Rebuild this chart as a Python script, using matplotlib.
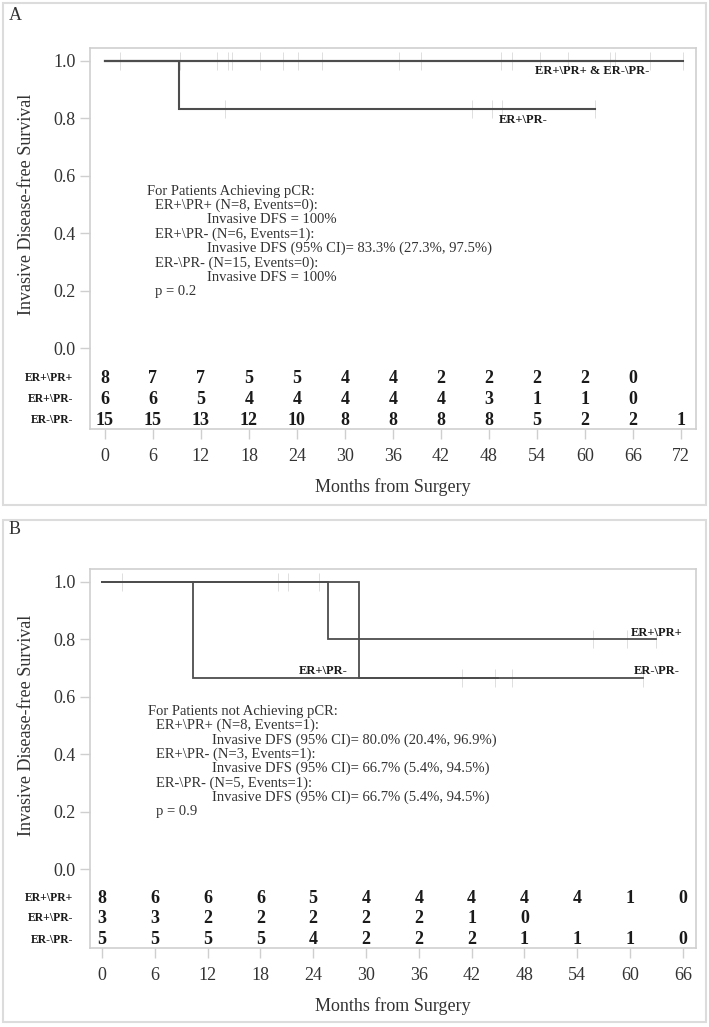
import matplotlib
matplotlib.use("Agg")
import matplotlib.pyplot as plt
from matplotlib.patches import Rectangle

plt.rcParams['font.family'] = ['Liberation Serif', 'DejaVu Serif']

W, H = 709, 1027

# ---- panel A data (pCR) ----
groups = ['ER+\\PR+', 'ER+\\PR-', 'ER-\\PR-']
months_A = [0, 6, 12, 18, 24, 30, 36, 42, 48, 54, 60, 66, 72]
risk_A_pp = [8, 7, 7, 5, 5, 4, 4, 2, 2, 2, 2, 0]
risk_A_pm = [6, 6, 5, 4, 4, 4, 4, 4, 3, 1, 1, 0]
risk_A_nn = [15, 15, 13, 12, 10, 8, 8, 8, 8, 5, 2, 2, 1]

A_pp_t = [0, 63.8]
A_pp_s = [1.0, 1.0]
A_pm_t = [0, 9.25, 61.25]
A_pm_s = [1.0, 0.833, 0.833]
A_nn_t = [0, 72.3]
A_nn_s = [1.0, 1.0]
A_cens_top = [1.9, 9.4, 14, 15.4, 15.9, 19.4, 22.3, 24.1, 27.1, 36.8, 39.5,
              49.5, 50.9, 54.4, 57.9, 63.1, 63.8, 68.1, 72.3]
A_cens_pm = [15, 45.9, 48.4, 49.6, 61.25]

# ---- panel B data (no pCR) ----
months_B = [0, 6, 12, 18, 24, 30, 36, 42, 48, 54, 60, 66]
risk_B_pp = [8, 6, 6, 6, 5, 4, 4, 4, 4, 4, 1, 0]
risk_B_pm = [3, 3, 2, 2, 2, 2, 2, 1, 0]
risk_B_nn = [5, 5, 5, 5, 4, 2, 2, 2, 1, 1, 1, 0]

B_pp_t = [0, 25.7, 63]
B_pp_s = [1.0, 0.8, 0.8]
B_pm_t = [0, 10.4, 45]
B_pm_s = [1.0, 0.667, 0.667]
B_nn_t = [0, 29.2, 61.5]
B_nn_s = [1.0, 0.667, 0.667]
B_cens_top = [2.3, 20, 21.1, 24.7]
B_cens_pp = [55.8, 59.7, 63]
B_cens_low = [40.9, 44.7, 46.6, 61.5]

text_A = ["For Patients Achieving pCR:",
          "ER+\\PR+ (N=8, Events=0):",
          "Invasive DFS = 100%",
          "ER+\\PR- (N=6, Events=1):",
          "Invasive DFS (95% CI)= 83.3% (27.3%, 97.5%)",
          "ER-\\PR- (N=15, Events=0):",
          "Invasive DFS = 100%",
          "p = 0.2"]
text_B = ["For Patients not Achieving pCR:",
          "ER+\\PR+ (N=8, Events=1):",
          "Invasive DFS (95% CI)= 80.0% (20.4%, 96.9%)",
          "ER+\\PR- (N=3, Events=1):",
          "Invasive DFS (95% CI)= 66.7% (5.4%, 94.5%)",
          "ER-\\PR- (N=5, Events=1):",
          "Invasive DFS (95% CI)= 66.7% (5.4%, 94.5%)",
          "p = 0.9"]
indent = [0, 1, 2, 1, 2, 1, 2, 1]

LINE = '#4d4d4d'
FRAME = '#cfcfcf'
TXT = '#333333'

fig = plt.figure(figsize=(W / 100, H / 100), dpi=100)


def fx(x):
    return x / W


def fy(y):
    return 1 - y / H


def panel(top_px, bot_px, xlim, ylo, ticks_x):
    ax = fig.add_axes([fx(90), fy(bot_px), fx(696) - fx(90), fy(top_px) - fy(bot_px)])
    ax.set_xlim(*xlim)
    ax.set_ylim(ylo, 1.045)
    for s in ax.spines.values():
        s.set_color(FRAME)
        s.set_linewidth(1.2)
    ax.set_yticks([0, 0.2, 0.4, 0.6, 0.8, 1.0])
    ax.set_yticklabels(['0.0', '0.2', '0.4', '0.6', '0.8', '1.0'])
    ax.set_xticks(ticks_x)
    ax.tick_params(axis='both', colors=FRAME, labelcolor=TXT, labelsize=13,
                   length=7, width=1.0)
    ax.tick_params(axis='x', pad=7)
    ax.set_xlabel('Months from Surgery', fontsize=13, color=TXT, labelpad=9)
    ax.text(-0.105, (0.5 - ylo) / (1.045 - ylo), 'Invasive Disease-free Survival',
            transform=ax.transAxes, rotation=90, ha='center', va='center',
            fontsize=13, color=TXT)
    return ax


def curve(ax, t, s, lw=1.5):
    ax.step(t, s, where='post', color=LINE, lw=lw, solid_joinstyle='miter')


def censor(ax, t, level):
    # faint censoring ticks
    ax.plot(t, [level] * len(t), ls='none', marker='|', ms=13,
            mew=0.7, color='#dedede', zorder=1)


def risk_table(ax, months, rows, ys):
    for vals, yy in zip(rows, ys):
        for m, v in zip(months, vals):
            ax.text(m, yy, str(v), ha='center', va='center',
                    fontsize=13, fontweight='bold', color='#1a1a1a')


def row_labels(ys_px):
    for g, y in zip(groups, ys_px):
        fig.text(fx(73), fy(y), g, ha='right', va='center', fontsize=8.5,
                 fontweight='bold', color='#1a1a1a')


def notes(lines, x0, y0, deep):
    for i, (ln, ind) in enumerate(zip(lines, indent)):
        x = x0 + [0, 8, deep][ind]
        fig.text(fx(x), fy(y0 + i * 14.4), ln, ha='left', va='center',
                 fontsize=10.5, color=TXT)


# outer boxes
for y0, y1 in [(3, 505), (520, 1022)]:
    fig.patches.append(Rectangle((fx(3), fy(y1)), fx(703), fy(y0) - fy(y1),
                                 transform=fig.transFigure, fill=False,
                                 edgecolor='#dcdcdc', lw=1.5))
fig.text(fx(9), fy(15), 'A', fontsize=13, color=TXT, va='center')
fig.text(fx(9), fy(530), 'B', fontsize=13, color=TXT, va='center')

# ---- panel A ----
axA = panel(48, 429, (-1.875, 73.9), -0.282, months_A)
censor(axA, A_cens_top, 1.0)
censor(axA, A_cens_pm, 0.833)
curve(axA, A_nn_t, A_nn_s)
curve(axA, A_pp_t, A_pp_s)
curve(axA, A_pm_t, A_pm_s)
axA.text(60.9, 0.965, 'ER+\\PR+ & ER-\\PR-', ha='center', va='center',
         fontsize=9, fontweight='bold', color='#1a1a1a')
axA.text(52.25, 0.794, 'ER+\\PR-', ha='center', va='center',
         fontsize=9, fontweight='bold', color='#1a1a1a')
risk_table(axA, months_A, [risk_A_pp, risk_A_pm, risk_A_nn],
           [-0.1045, -0.178, -0.251])
row_labels([378, 399, 420])
notes(text_A, 147, 191, 60)

# ---- panel B ----
axB = panel(569, 948, (-1.36, 67.5), -0.275, months_B)
censor(axB, B_cens_top, 1.0)
censor(axB, B_cens_pp, 0.8)
censor(axB, B_cens_low, 0.667)
curve(axB, B_pp_t, B_pp_s, lw=1.3)
curve(axB, B_pm_t, B_pm_s, lw=1.3)
curve(axB, B_nn_t, B_nn_s, lw=1.3)
axB.text(63, 0.822, 'ER+\\PR+', ha='center', va='center',
         fontsize=9, fontweight='bold', color='#1a1a1a')
axB.text(63, 0.69, 'ER-\\PR-', ha='center', va='center',
         fontsize=9, fontweight='bold', color='#1a1a1a')
axB.text(25.1, 0.69, 'ER+\\PR-', ha='center', va='center',
         fontsize=9, fontweight='bold', color='#1a1a1a')
risk_table(axB, months_B, [risk_B_pp, risk_B_pm, risk_B_nn],
           [-0.101, -0.171, -0.247])
row_labels([898, 918, 940])
notes(text_B, 148, 711, 64)

fig.savefig('out.png', dpi=100)
